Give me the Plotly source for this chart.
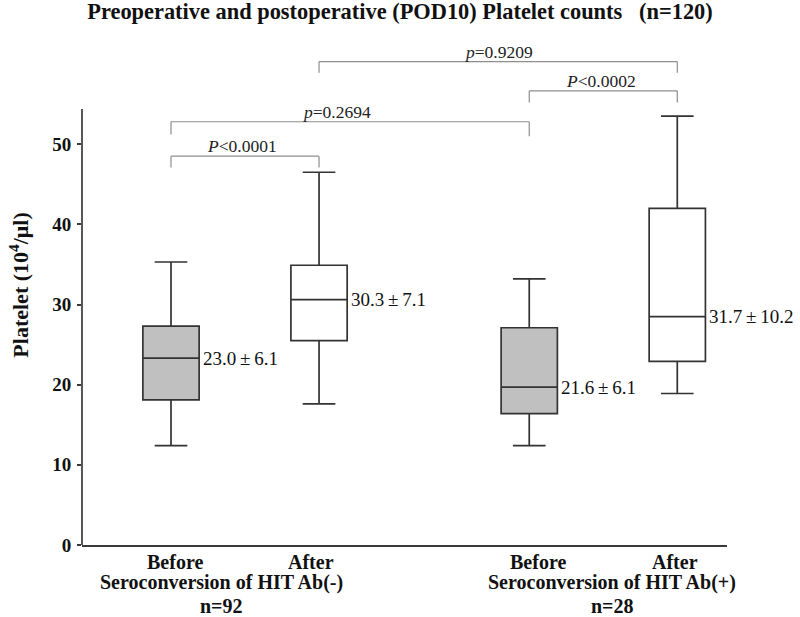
import plotly.graph_objects as go

# box statistics (platelet, 10^4/ul)
groups = ['Before', 'After', 'Before', 'After']
x_pos = [1, 2, 3.42, 4.42]
lower_whisker = [12.4, 17.6, 12.4, 18.9]
q1 = [18.1, 25.5, 16.4, 22.9]
median = [23.3, 30.6, 19.7, 28.5]
q3 = [27.3, 34.9, 27.1, 42.0]
upper_whisker = [35.3, 46.5, 33.2, 53.5]
means = [23.0, 30.3, 21.6, 31.7]
sds = [6.1, 7.1, 6.1, 10.2]

group_names = ['Seroconversion of HIT Ab(-)', 'Seroconversion of HIT Ab(+)']
group_n = ['n=92', 'n=28']

# comparisons: (left box, right box, label)
comparisons = [
    (0, 1, '<i>P</i><0.0001'),
    (0, 2, '<i>p</i>=0.2694'),
    (2, 3, '<i>P</i><0.0002'),
    (1, 3, '<i>p</i>=0.9209'),
]

FONT = 'Liberation Serif, Times New Roman, serif'
AXIS_COLOR = '#3a3a3a'
BOX_LINE = '#333333'
TXT = '#111111'

fig = go.Figure()

before_idx = [0, 2]
after_idx = [1, 3]
for idx, fill in [(before_idx, '#c0c0c0'), (after_idx, 'white')]:
    fig.add_trace(go.Box(
        x=[x_pos[i] for i in idx],
        lowerfence=[lower_whisker[i] for i in idx],
        q1=[q1[i] for i in idx],
        median=[median[i] for i in idx],
        q3=[q3[i] for i in idx],
        upperfence=[upper_whisker[i] for i in idx],
        fillcolor=fill,
        line=dict(color=BOX_LINE, width=1.7),
        width=0.38,
        whiskerwidth=0.58,
        showlegend=False,
        hoverinfo='skip'
    ))

# mean +- sd labels next to the medians
for i in range(4):
    fig.add_annotation(
        x=x_pos[i] + 0.19, y=median[i],
        text=f"{means[i]:.1f}\u2009±\u2009{sds[i]:.1f}",
        xanchor='left', yanchor='middle', xshift=2, showarrow=False,
        font=dict(family=FONT, size=19, color=TXT)
    )

# significance brackets: (top, left leg bottom, right leg bottom)
bracket_geom = [(48.5, 47.1, 47.1), (52.8, 51.2, 51.0), (56.65, 55.2, 55.2), (60.3, 58.9, 58.9)]
text_shift = [-3, -14, -2, 0]
for (a, b, label), (top, la, lb), dx in zip(comparisons, bracket_geom, text_shift):
    xa, xb = x_pos[a], x_pos[b]
    line = dict(color='#8e8e8e', width=1.2)
    fig.add_shape(type='line', x0=xa, x1=xb, y0=top, y1=top, line=line)
    fig.add_shape(type='line', x0=xa, x1=xa, y0=la, y1=top, line=line)
    fig.add_shape(type='line', x0=xb, x1=xb, y0=lb, y1=top, line=line)
    fig.add_annotation(
        x=(xa + xb) / 2, y=top, text=label, showarrow=False,
        yanchor='middle', yshift=10, xshift=dx,
        font=dict(family=FONT, size=17.5, color='#222222')
    )

# y axis line (stops below the brackets)
fig.add_shape(type='line', xref='paper', x0=0, x1=0, yref='y', y0=0, y1=54.4,
              line=dict(color=AXIS_COLOR, width=1.7))

# category labels
label_shift = [4, -8, 9, -2]
for i in range(4):
    fig.add_annotation(
        x=x_pos[i], y=-0.034, yref='paper', text=groups[i],
        showarrow=False, yanchor='middle', xshift=label_shift[i],
        font=dict(family=FONT, size=20, color=TXT, weight='bold')
    )
for gx, name, n in zip([1.341, 3.979], group_names, group_n):
    fig.add_annotation(
        x=gx, y=-0.077, yref='paper', text=name,
        showarrow=False, yanchor='middle',
        font=dict(family=FONT, size=20, color=TXT, weight='bold')
    )
    fig.add_annotation(
        x=gx, y=-0.125, yref='paper', text=n,
        showarrow=False, yanchor='middle',
        font=dict(family=FONT, size=20, color=TXT, weight='bold')
    )

# y axis title
fig.add_annotation(
    x=-0.098, y=0.532, xref='paper', yref='paper',
    text='Platelet (10<sup>4</sup>/μl)', textangle=-90,
    showarrow=False, xanchor='center', yanchor='middle',
    font=dict(family=FONT, size=22, color=TXT, weight='bold')
)

fig.update_layout(
    title=dict(
        text='Preoperative and postoperative (POD10) Platelet counts   (n=120)',
        x=0.5, xanchor='center', y=0.982, yanchor='middle',
        font=dict(family=FONT, size=22.4, color=TXT, weight='bold')
    ),
    width=800, height=617,
    margin=dict(l=82, r=73, t=56, b=72),
    paper_bgcolor='white',
    plot_bgcolor='white',
    xaxis=dict(range=[0.3988, 4.7558], showgrid=False, zeroline=False,
               showticklabels=False, ticks='', showline=True,
               linecolor=AXIS_COLOR, linewidth=1.8),
    yaxis=dict(range=[0, 61], tickvals=[0, 10, 20, 30, 40, 50],
               showgrid=False, zeroline=False, showline=False,
               ticks='outside', ticklen=4, tickwidth=1.7, tickcolor=AXIS_COLOR,
               tickfont=dict(family=FONT, size=19, color=TXT, weight='bold'),
               ticklabelstandoff=2),
    font=dict(family=FONT),
)

fig.write_html("out.html", config={'displayModeBar': False},
               post_script="document.body.style.margin='0px';")
